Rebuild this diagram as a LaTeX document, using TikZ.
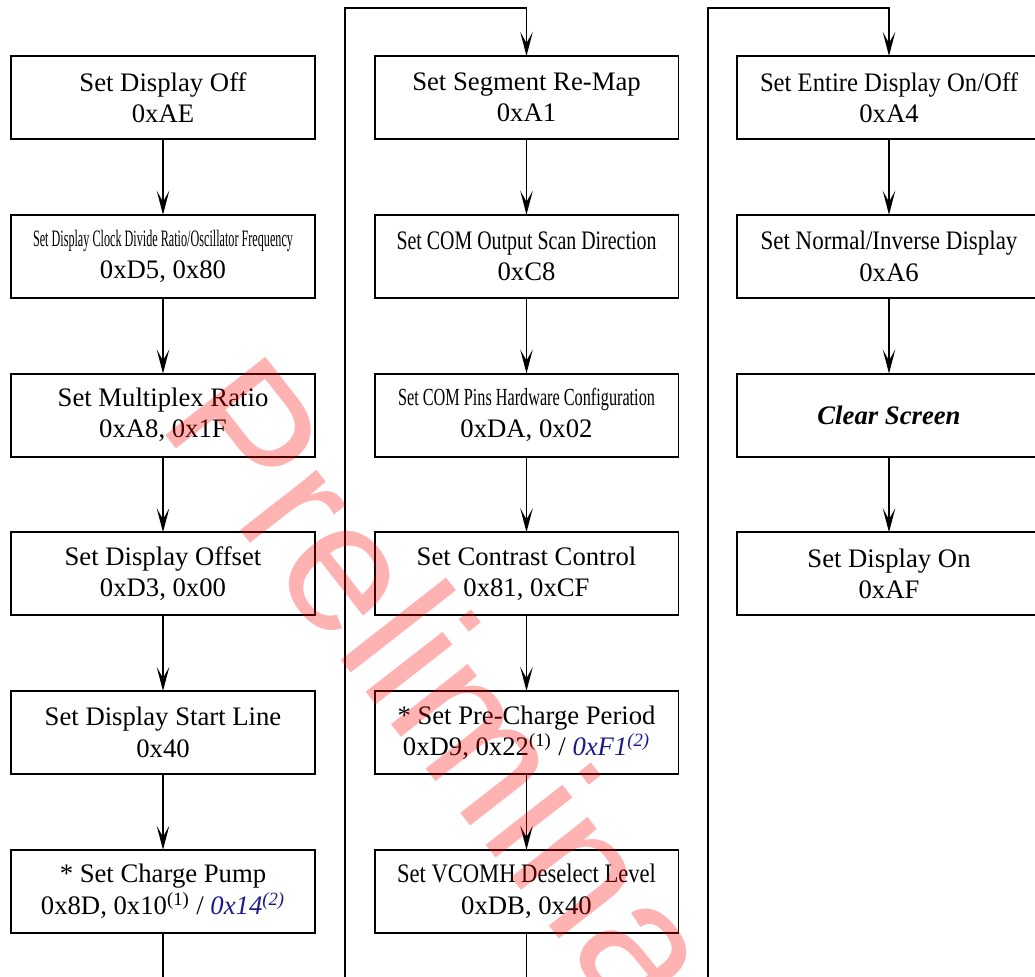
\documentclass[tikz,border=0pt]{standalone}
\usepackage{fontspec}
\setmainfont{Liberation Serif}
\newfontfamily\markfont{Liberation Sans}
\usetikzlibrary{arrows.meta,positioning}
\definecolor{hexblue}{rgb}{0.1,0.1,0.55}
% squeeze a line to a given width, height kept
\newcommand{\squeeze}[2]{\resizebox{#1}{\height}{#2}}
\newcommand{\blueval}[2]{\textcolor{hexblue}{\textit{#1\textsuperscript{#2}}}}
\tikzset{
  cmd/.style={draw, line width=1.1pt, minimum width=6.08cm, minimum height=1.66cm,
    align=center, inner sep=0pt, outer sep=0pt, font=\fontsize{15.2}{17.9}\selectfont},
  flow/.style={line width=1pt, -{Stealth[length=4.8mm,width=2.5mm,inset=2.2mm]}},
  link/.style={line width=1pt},
}
\begin{document}
\begin{tikzpicture}[x=0.02cm,y=-0.02cm,node distance=1.516cm]
  \useasboundingbox (0,0) rectangle (1035,977);
  \clip (0,0) rectangle (1035,977);

  % first column
  \node[cmd] (a1) at (163,97.5) {Set Display Off\\0xAE};
  \node[cmd,below=of a1] (a2) {\resizebox{5.2cm}{0.88\height}{Set Display Clock Divide Ratio/Oscillator Frequency}\\0xD5, 0x80};
  \node[cmd,below=of a2] (a3) {Set Multiplex Ratio\\0xA8, 0x1F};
  \node[cmd,below=of a3] (a4) {Set Display Offset\\0xD3, 0x00};
  \node[cmd,below=of a4] (a5) {Set Display Start Line\\0x40};
  \node[cmd,below=of a5] (a6) {* Set Charge Pump\\0x8D, 0x10\textsuperscript{(1)} / \blueval{0x14}{(2)}};

  % second column
  \node[cmd] (b1) at (526.5,97.5) {Set Segment Re-Map\\0xA1};
  \node[cmd,below=of b1] (b2) {\squeeze{5.2cm}{Set COM Output Scan Direction}\\0xC8};
  \node[cmd,below=of b2] (b3) {\resizebox{5.14cm}{0.92\height}{Set COM Pins Hardware Configuration}\\0xDA, 0x02};
  \node[cmd,below=of b3] (b4) {Set Contrast Control\\0x81, 0xCF};
  \node[cmd,below=of b4] (b5) {\squeeze{5.16cm}{* Set Pre-Charge Period}\\0xD9, 0x22\textsuperscript{(1)} / \blueval{0xF1}{(2)}};
  \node[cmd,below=of b5] (b6) {\squeeze{5.18cm}{Set VCOMH Deselect Level}\\0xDB, 0x40};

  % third column
  \node[cmd] (c1) at (889,97.5) {\squeeze{5.16cm}{Set Entire Display On/Off}\\0xA4};
  \node[cmd,below=of c1] (c2) {\squeeze{5.14cm}{Set Normal/Inverse Display}\\0xA6};
  \node[cmd,below=of c2] (c3) {\textbf{\textit{Clear Screen}}};
  \node[cmd,below=of c3] (c4) {Set Display On\\0xAF};

  \draw[flow] (a1) -- (a2);
  \draw[flow] (a2) -- (a3);
  \draw[flow] (a3) -- (a4);
  \draw[flow] (a4) -- (a5);
  \draw[flow] (a5) -- (a6);
  \draw[flow] (b1) -- (b2);
  \draw[flow] (b2) -- (b3);
  \draw[flow] (b3) -- (b4);
  \draw[flow] (b4) -- (b5);
  \draw[flow] (b5) -- (b6);
  \draw[flow] (c1) -- (c2);
  \draw[flow] (c2) -- (c3);
  \draw[flow] (c3) -- (c4);

  % lines leaving and entering at the page edge
  \coordinate (outA) at (163,990);
  \coordinate (outB) at (526.5,990);
  \coordinate (inB) at (345,990);
  \coordinate (turnB) at (345,8);
  \coordinate (inC) at (708,990);
  \coordinate (turnC) at (708,8);
  \draw[link] (a6) -- (outA);
  \draw[link] (b6) -- (outB);
  \draw[flow] (inB) -- (turnB) -| (b1);
  \draw[flow] (inC) -- (turnC) -| (c1);

  % watermark
  \node[rotate=-52,text=red,opacity=0.3,inner sep=0pt,
    font=\markfont\fontsize{105}{105}\selectfont] (mark) at (478,758) {Preliminary};
\end{tikzpicture}
\end{document}
